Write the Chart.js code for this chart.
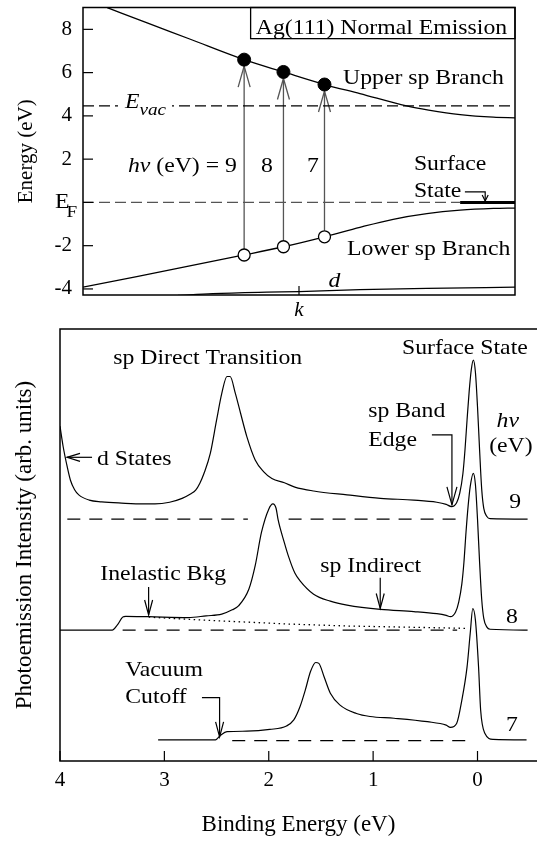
<!DOCTYPE html>
<html><head><meta charset="utf-8">
<script src="https://cdn.jsdelivr.net/npm/chart.js@4.4.0/dist/chart.umd.min.js"></script>
<style>
html,body{margin:0;padding:0;background:#fff;}
#wrap{position:relative;width:537px;height:842px;}
canvas{position:absolute;left:0;}
#top{top:0;} #bot{top:320px;}
</style></head><body>
<div id="wrap"><canvas id="top" width="537" height="320"></canvas><canvas id="bot" width="537" height="522"></canvas></div>
<script>
// ---------- Top panel data (band structure, k in arbitrary units) ----------
const kUpper = [0.056, 0.15, 0.25, 0.373, 0.464, 0.559, 0.641, 0.749, 0.80, 0.873, 0.95, 1.0];
const eUpper = [9.0, 8.29, 7.53, 6.6, 6.03, 5.45, 5.03, 4.46, 4.27, 4.06, 3.94, 3.91];
const kLower = [0.0, 0.373, 0.464, 0.559, 0.641, 0.718, 0.796, 0.873, 0.95, 1.0];
const eLower = [-3.92, -2.43, -2.05, -1.59, -1.15, -0.78, -0.52, -0.36, -0.28, -0.26];
const kDBand = [0.22, 0.30, 0.425, 0.5, 0.641, 0.796, 1.0];
const eDBand = [-4.3, -4.22, -4.15, -4.12, -4.03, -3.97, -3.92];
const photonEnergies = ['9', '8', '7'];
const kTransition = [0.373, 0.464, 0.559];
const eInitial = [-2.43, -2.05, -1.59];
const eFinal = [6.6, 6.03, 5.45];
const eVacuum = 4.46;
const eFermi = 0;
const kSurfaceState = [0.873, 1.0];
const topYTicks = [-4, -2, 0, 2, 4, 6, 8];
const topYTickLabels = ['-4', '-2', '', '2', '4', '6', '8'];
const topXTicks = [0.5];
const topXTickLabels = ['k'];

// ---------- Bottom panel data (spectra, binding energy in eV) ----------
const be9 = [4.00,3.97,3.93,3.90,3.86,3.82,3.72,3.60,3.41,3.20,3.09,2.95,2.83,2.75,2.70,2.66,2.62,2.56,2.50,2.45,2.40,2.37,2.32,2.27,2.21,2.13,2.05,1.97,1.85,1.75,1.57,1.25,0.93,0.61,0.39,0.30,0.25,0.20,0.17,0.14,0.12,0.10,0.08,0.06,0.04,0.02,0.00,-0.02,-0.04,-0.06,-0.09,-0.12,-0.48];
const int9 = [77.5,72.8,68.0,65.0,62.8,61.6,60.4,60.0,59.7,59.5,59.5,59.9,60.8,61.8,62.7,64.3,66.6,71.2,78.9,85.1,89.0,89.0,85.1,80.5,75.1,69.7,67.0,65.4,64.4,63.4,62.5,61.6,60.8,60.4,59.9,59.4,58.9,59.8,62.0,66.5,72.0,79.0,85.5,90.5,92.8,90.0,82.0,72.0,63.0,58.5,56.6,56.1,56.0];
const be8 = [4.00,3.50,3.45,3.40,3.37,3.15,2.77,2.60,2.45,2.35,2.29,2.19,2.13,2.07,2.00,1.96,1.93,1.91,1.85,1.81,1.75,1.70,1.57,1.41,1.25,0.93,0.61,0.39,0.30,0.26,0.21,0.18,0.15,0.13,0.11,0.09,0.07,0.04,0.02,0.00,-0.02,-0.04,-0.06,-0.09,-0.12,-0.48];
const int8 = [30.3,30.3,31.5,33.3,33.5,33.4,33.2,33.6,34.0,35.0,35.9,39.8,45.2,52.9,58.3,59.5,58.5,55.8,50.5,47.3,43.5,41.7,38.6,37.0,36.1,35.1,34.6,34.1,33.7,33.4,34.5,36.8,41.0,46.0,53.0,59.0,63.5,66.6,64.0,56.0,46.0,37.5,33.0,31.0,30.5,30.3];
const be7 = [3.06,2.51,2.46,2.40,2.21,1.99,1.83,1.76,1.70,1.65,1.60,1.55,1.52,1.47,1.41,1.32,1.16,1.03,0.80,0.48,0.30,0.26,0.20,0.15,0.10,0.07,0.045,0.02,-0.01,-0.03,-0.07,-0.15,-0.47];
const int7 = [4.9,4.9,6.0,6.8,6.9,7.3,8.1,9.5,12.6,16.4,20.7,22.8,22.6,19.5,15.7,13.0,11.0,10.3,9.9,9.1,8.3,7.8,8.7,14.1,21.8,29.5,35.3,32.6,21.8,11.8,6.4,5.0,4.9];
const beBkg8 = [3.15, 2.61, 1.81, 1.25, 0.61, 0.10];
const intBkg8 = [33.3, 32.6, 31.7, 31.25, 30.95, 30.7];
const beBase9 = [3.93, 2.20, 2.00, 1.81, 0.195];
const intBase9 = [56.0, 56.0, null, 56.0, 56.0];
const beBase8 = [3.40, 0.195];
const intBase8 = [30.3, 30.3];
const beBase7 = [2.35, 0.10];
const intBase7 = [4.7, 4.7];
const botXTicks = [0, 1, 2, 3, 4];
const botXTickLabels = ['0', '1', '2', '3', '4'];

// ---------- helpers ----------
const FONT = '"Liberation Serif","Times New Roman",Times,serif';
Chart.defaults.font.family = FONT;
Chart.defaults.color = '#000';
const xy = (xs, ys) => xs.map((x, i) => ({x: x, y: ys[i]}));
const SX = 1.13;
function label(ctx, text, x, y, size, opts) {
  opts = opts || {};
  ctx.save();
  ctx.font = (opts.italic ? 'italic ' : '') + size + 'px ' + FONT;
  ctx.fillStyle = '#000';
  ctx.textBaseline = 'alphabetic';
  ctx.textAlign = opts.align || 'left';
  ctx.translate(x, y); ctx.scale(SX, 1);
  ctx.fillText(text, 0, 0);
  const w = ctx.measureText(text).width * SX;
  ctx.restore();
  return w;
}
function line(ctx, pts) {
  ctx.beginPath(); ctx.moveTo(pts[0][0], pts[0][1]);
  for (let i = 1; i < pts.length; i++) ctx.lineTo(pts[i][0], pts[i][1]);
  ctx.stroke();
}
function head(ctx, tx, ty, dx, dy, len, half) {
  const bx = tx - dx * len, by = ty - dy * len;
  const nx = -dy, ny = dx;
  line(ctx, [[bx + nx * half, by + ny * half], [tx, ty], [bx - nx * half, by - ny * half]]);
}

// ---------- top chart ----------
const topDeco = {
  id: 'topDeco',
  beforeDatasetsDraw(chart) {
    const {ctx, scales: {x, y}} = chart;
    ctx.save();
    ctx.strokeStyle = '#555'; ctx.lineWidth = 1.3;
    kTransition.forEach((k, i) => {
      const px = x.getPixelForValue(k);
      const y0 = y.getPixelForValue(eInitial[i]) - 6;
      const y1 = y.getPixelForValue(eFinal[i]) + 6.5;
      line(ctx, [[px, y0], [px, y1]]);
      head(ctx, px, y1, 0, -1, 21, 6);
    });
    ctx.restore();
  },
  afterDatasetsDraw(chart) {
    const {ctx, chartArea: a, scales: {x, y}} = chart;
    const P = (k, e) => [x.getPixelForValue(k), y.getPixelForValue(e)];
    ctx.save();
    ctx.strokeStyle = '#000';
    const b = P(0.388, 7.57);
    ctx.fillStyle = '#fff';
    ctx.fillRect(b[0], a.top, a.right - b[0], b[1] - a.top);
    ctx.lineWidth = 1.3;
    ctx.strokeRect(b[0], a.top, a.right - b[0], b[1] - a.top);
    ctx.lineWidth = 1.5;
    ctx.strokeRect(a.left, a.top, a.right - a.left, a.bottom - a.top);
    ctx.lineWidth = 1.2;
    y.ticks.forEach(t => { const py = y.getPixelForValue(t.value); line(ctx, [[a.left, py], [a.left + 10, py]]); });
    x.ticks.forEach(t => { const px = x.getPixelForValue(t.value); line(ctx, [[px, a.bottom], [px, a.bottom - 9]]); });
    const g0 = P(0.081, eVacuum), g1 = P(0.206, eVacuum);
    ctx.fillStyle = '#fff'; ctx.fillRect(g0[0], g0[1] - 3, g1[0] - g0[0], 6);
    let p = P(0.097, 4.38);
    const wE = label(ctx, 'E', p[0], p[1], 21, {italic: true});
    p = P(0.097, 4.06);
    label(ctx, 'vac', p[0] + wE, p[1], 17, {italic: true});
    p = P(0.400, 7.80); label(ctx, 'Ag(111) Normal Emission', p[0], p[1], 21);
    p = P(0.602, 5.46); label(ctx, 'Upper sp Branch', p[0], p[1], 21);
    p = P(0.611, -2.43); label(ctx, 'Lower sp Branch', p[0], p[1], 21);
    p = P(0.568, -3.89); label(ctx, 'd', p[0], p[1], 21, {italic: true});
    p = P(0.104, 1.40);
    const wh = label(ctx, 'h\u03bd', p[0], p[1], 21, {italic: true});
    label(ctx, ' (eV) = ' + photonEnergies[0], p[0] + wh, p[1], 21);
    p = P(0.426, 1.40); label(ctx, photonEnergies[1], p[0], p[1], 21, {align: 'center'});
    p = P(0.532, 1.40); label(ctx, photonEnergies[2], p[0], p[1], 21, {align: 'center'});
    p = P(0.766, 1.49); label(ctx, 'Surface', p[0], p[1], 21);
    p = P(0.766, 0.26); label(ctx, 'State', p[0], p[1], 21);
    ctx.lineWidth = 1.2;
    const s0 = P(0.884, 0.49), s1 = P(0.931, 0.49), s2 = P(0.931, 0.07);
    line(ctx, [s0, s1, s2]);
    head(ctx, s2[0], s2[1], 0, 1, 6, 3);
    p = P(-0.065, -0.28); label(ctx, 'E', p[0], p[1], 21);
    p = P(-0.038, -0.66); label(ctx, 'F', p[0], p[1], 17);
    ctx.restore();
  }
};

new Chart(document.getElementById('top'), {
  type: 'line',
  data: { datasets: [
    { label: 'final', type: 'scatter', data: xy(kTransition, eFinal), pointRadius: 6.5, pointBackgroundColor: '#000', pointBorderColor: '#000', pointBorderWidth: 1, order: 0 },
    { label: 'initial', type: 'scatter', data: xy(kTransition, eInitial), pointRadius: 6, pointBackgroundColor: '#fff', pointBorderColor: '#000', pointBorderWidth: 1.3, order: 0 },
    { label: 'Surface state', data: xy(kSurfaceState, [eFermi, eFermi]), borderColor: '#000', borderWidth: 3, pointRadius: 0, order: 1 },
    { label: 'Upper sp', data: xy(kUpper, eUpper), borderColor: '#000', borderWidth: 1.3, pointRadius: 0, cubicInterpolationMode: 'monotone', order: 2 },
    { label: 'Lower sp', data: xy(kLower, eLower), borderColor: '#000', borderWidth: 1.3, pointRadius: 0, cubicInterpolationMode: 'monotone', order: 2 },
    { label: 'd', data: xy(kDBand, eDBand), borderColor: '#000', borderWidth: 1.3, pointRadius: 0, cubicInterpolationMode: 'monotone', order: 2 },
    { label: 'EF', data: xy([0, kSurfaceState[0]], [eFermi, eFermi]), borderColor: '#555', borderWidth: 1.3, borderDash: [11, 5], pointRadius: 0, order: 3 },
    { label: 'Evac', data: xy([0, 1], [eVacuum, eVacuum]), borderColor: '#000', borderWidth: 1.2, borderDash: [11, 5], pointRadius: 0, order: 3 }
  ]},
  options: {
    responsive: false, animation: false, devicePixelRatio: 1,
    layout: {padding: {top: 7, right: 22, left: 0, bottom: 0}},
    plugins: {legend: {display: false}, tooltip: {enabled: false}},
    scales: {
      x: { type: 'linear', min: 0, max: 1, grid: {display: false, drawTicks: false}, border: {display: false},
           afterBuildTicks: s => { s.ticks = topXTicks.map(v => ({value: v})); },
           ticks: { callback: (v, i) => topXTickLabels[i], font: {size: 21, style: 'italic'}, padding: 3, maxRotation: 0, autoSkip: false },
           afterFit: s => { s.height = 25; s.paddingLeft = 0; s.paddingRight = 0; } },
      y: { type: 'linear', min: -4.28, max: 9.01, grid: {display: false, drawTicks: false}, border: {display: false},
           afterBuildTicks: s => { s.ticks = topYTicks.map(v => ({value: v})); },
           ticks: { callback: (v, i) => topYTickLabels[i], font: {size: 21}, padding: 11, autoSkip: false },
           title: { display: true, text: 'Energy (eV)', font: {size: 21}, padding: {top: 14, bottom: 0} },
           afterFit: s => { s.width = 83; s.paddingTop = 0; s.paddingBottom = 0; } }
    }
  },
  plugins: [topDeco]
});

// ---------- bottom chart ----------
const botDeco = {
  id: 'botDeco',
  afterDatasetsDraw(chart) {
    const {ctx, chartArea: a, scales: {x, y}} = chart;
    const P = (be, v) => [x.getPixelForValue(be), y.getPixelForValue(v)];
    ctx.save();
    ctx.strokeStyle = '#000';
    ctx.lineWidth = 1.5;
    line(ctx, [[a.right, a.top], [a.left, a.top], [a.left, a.bottom], [a.right, a.bottom]]);
    ctx.lineWidth = 1.2;
    x.ticks.forEach(t => { const px = x.getPixelForValue(t.value); line(ctx, [[px, a.bottom], [px, a.bottom - 10]]); });
    let p;
    p = P(0.724, 94.2); label(ctx, 'Surface State', p[0], p[1], 21);
    p = P(3.49, 91.9); label(ctx, 'sp Direct Transition', p[0], p[1], 21);
    p = P(1.047, 79.6); label(ctx, 'sp Band', p[0], p[1], 21);
    p = P(1.047, 73.0); label(ctx, 'Edge', p[0], p[1], 21);
    p = P(-0.29, 77.4); label(ctx, 'h\u03bd', p[0], p[1], 21, {italic: true, align: 'center'});
    p = P(-0.32, 71.5); label(ctx, '(eV)', p[0], p[1], 21, {align: 'center'});
    p = P(-0.36, 58.5); label(ctx, photonEnergies[0], p[0], p[1], 21, {align: 'center'});
    p = P(-0.33, 31.9); label(ctx, photonEnergies[1], p[0], p[1], 21, {align: 'center'});
    p = P(-0.33, 6.9); label(ctx, photonEnergies[2], p[0], p[1], 21, {align: 'center'});
    p = P(3.646, 68.5); label(ctx, 'd States', p[0], p[1], 21);
    p = P(3.614, 41.9); label(ctx, 'Inelastic Bkg', p[0], p[1], 21);
    p = P(1.507, 43.8); label(ctx, 'sp Indirect', p[0], p[1], 21);
    p = P(3.375, 19.7); label(ctx, 'Vacuum', p[0], p[1], 21);
    p = P(3.375, 13.4); label(ctx, 'Cutoff', p[0], p[1], 21);
    let q;
    q = [P(0.437, 75.5), P(0.245, 75.5), P(0.245, 59.3)]; line(ctx, q); head(ctx, q[2][0], q[2][1], 0, 1, 18, 5);
    q = [P(3.693, 70.3), P(3.933, 70.3)]; line(ctx, q); head(ctx, q[1][0], q[1][1], -1, 0, 13, 4);
    q = [P(3.151, 40.3), P(3.151, 33.8)]; line(ctx, q); head(ctx, q[1][0], q[1][1], 0, 1, 15, 4);
    q = [P(0.932, 42.4), P(0.932, 35.3)]; line(ctx, q); head(ctx, q[1][0], q[1][1], 0, 1, 15, 4);
    q = [P(2.64, 14.65), P(2.471, 14.65), P(2.471, 5.6)]; line(ctx, q); head(ctx, q[2][0], q[2][1], 0, 1, 15, 4);
    ctx.restore();
  }
};

const spec = (xs, ys) => ({ data: xy(xs, ys), borderColor: '#000', borderWidth: 1.2, pointRadius: 0, cubicInterpolationMode: 'monotone' });
const dashed = (xs, ys, dash) => ({ data: xy(xs, ys), borderColor: '#000', borderWidth: 1.2, pointRadius: 0, borderDash: dash, spanGaps: false });

new Chart(document.getElementById('bot'), {
  type: 'line',
  data: { datasets: [
    Object.assign(spec(be9, int9), {label: '9 eV'}),
    Object.assign(spec(be8, int8), {label: '8 eV'}),
    Object.assign(spec(be7, int7), {label: '7 eV'}),
    Object.assign(dashed(beBkg8, intBkg8, [1.5, 3.5]), {label: 'Inelastic background', borderWidth: 1.3}),
    Object.assign(dashed(beBase9, intBase9, [13, 9]), {label: 'zero 9'}),
    Object.assign(dashed(beBase8, intBase8, [13, 9]), {label: 'zero 8'}),
    Object.assign(dashed(beBase7, intBase7, [13, 9]), {label: 'zero 7'})
  ]},
  options: {
    responsive: false, animation: false, devicePixelRatio: 1,
    layout: {padding: {top: 9, right: 0, left: 0, bottom: 0}},
    plugins: {legend: {display: false}, tooltip: {enabled: false}},
    scales: {
      x: { type: 'linear', reverse: true, min: -0.57, max: 4, grid: {display: false, drawTicks: false}, border: {display: false},
           afterBuildTicks: s => { s.ticks = botXTicks.map(v => ({value: v})); },
           ticks: { callback: (v, i) => botXTickLabels[i], font: {size: 21}, padding: 7, autoSkip: false, maxRotation: 0 },
           title: { display: true, text: 'Binding Energy (eV)', font: {size: 23}, padding: {top: 0, bottom: 3} },
           afterFit: s => { s.height = 81; s.paddingLeft = 0; s.paddingRight = 0; } },
      y: { type: 'linear', min: 0, max: 100, grid: {display: false, drawTicks: false}, border: {display: false},
           ticks: { display: false },
           title: { display: true, text: 'Photoemission Intensity (arb. units)', font: {size: 23}, padding: {top: 11, bottom: 0} },
           afterFit: s => { s.width = 60; s.paddingTop = 0; s.paddingBottom = 0; } }
    }
  },
  plugins: [botDeco]
});
</script></body></html>
